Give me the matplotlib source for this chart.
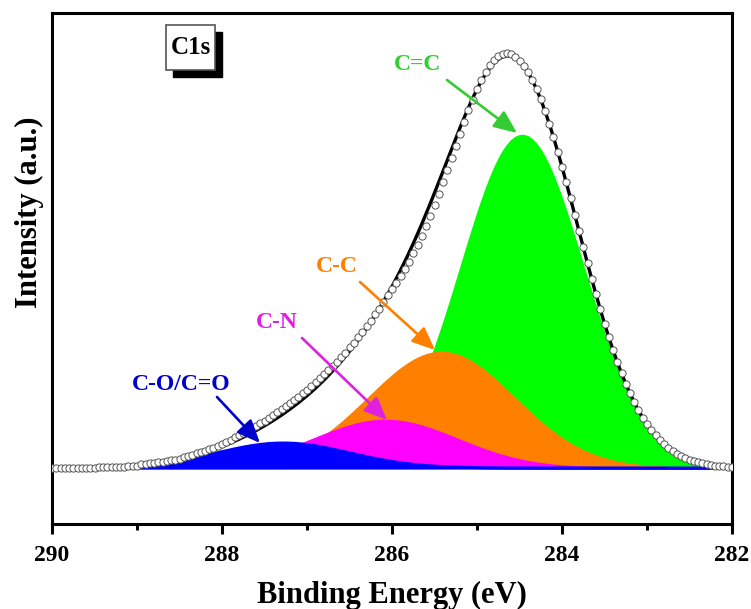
import numpy as np
import matplotlib
matplotlib.use("Agg")
import matplotlib.pyplot as plt
from matplotlib.patches import Rectangle

# ---- data ----
peak_names = ["C=C", "C-C", "C-N", "C-O/C=O"]
peak_centers = [284.47, 285.42, 286.08, 287.28]   # eV, fitted component positions
peak_heights = [333.0, 116.0, 48.0, 25.0]         # a.u.
peak_sigmas = [0.72, 0.86, 0.85, 0.78]            # eV (Gaussian widths)
fill_colors = ["#00FF00", "#FF8000", "#FF00FF", "#0000FF"]
label_colors = ["#33CC33", "#FF8000", "#E020E0", "#0000CC"]
xticks = [290, 288, 286, 284, 282]

# measured spectrum (open circles), 290.00 -> 282.00 eV in 0.05 eV steps
energy_start, energy_step = 290.0, -0.05
measured = [
    0, 0, 0, 0, 0, 0, 0, 0, 0, 0, 0,
    1, 1, 1, 1, 1, 1, 1, 2, 2, 2,
    4, 4, 5, 5, 6, 6, 7, 8, 8, 9,
    11, 12, 13, 15, 16, 17, 19, 20, 22,
    24, 26, 28, 31, 33, 35, 37, 40, 42, 45, 47,
    50, 53, 56, 59, 62, 65, 68, 71, 75, 78,
    82, 86, 90, 94, 98, 102, 106, 111, 115, 121,
    125, 131, 136, 142, 147, 154, 159, 166, 173, 179,
    185, 192, 199, 206, 215, 223, 232, 242, 252, 263,
    274, 286, 298, 310, 322, 334, 346, 358, 368, 379,
    388, 396, 403, 408, 412, 414, 415, 414, 411, 407,
    402, 396, 388, 379, 369, 357, 344, 331, 316, 301,
    286, 270, 253, 237, 221, 205, 189, 174, 159, 144,
    131, 118, 106, 95, 84, 75, 66, 58, 50, 44,
    38, 33, 28, 24, 20, 17, 14, 12, 10, 8,
    7, 6, 5, 4, 3, 2, 2, 2, 1, 1,
]

energy = energy_start + energy_step * np.arange(len(measured))

def comp(i, x):
    return peak_heights[i] * np.exp(-(x - peak_centers[i]) ** 2 / (2 * peak_sigmas[i] ** 2))

comps = [comp(i, energy) for i in range(4)]
envelope = np.sum(comps, axis=0)

plt.rcParams["font.family"] = ["Liberation Serif", "DejaVu Serif"]
plt.rcParams["font.weight"] = "bold"

fig = plt.figure(figsize=(7.51, 6.09), dpi=100)
ax = fig.add_axes([52 / 751, 1 - 524 / 609, 680 / 751, 511 / 609])

for i in range(4):
    ax.fill_between(energy, 0, comps[i], facecolor=fill_colors[i],
                    edgecolor=fill_colors[i], lw=1.2, zorder=2 + i)
ax.plot(energy, comps[3], color=fill_colors[3], lw=2.2, zorder=6)

ax.plot(energy, envelope, color="black", lw=2.4, zorder=7)
ax.plot(energy, measured, ls="none", marker="o", ms=5.2, mfc="white",
        mec="#555555", mew=0.7, zorder=8)

ax.set_xlim(290, 282)
ax.set_ylim(-56, 455)
ax.set_xticks(xticks)
ax.set_xticks([289, 287, 285, 283], minor=True)
ax.set_yticks([])
ax.tick_params(axis="x", which="major", direction="out", length=7.2, width=2.2,
               labelsize=17, pad=8)
ax.tick_params(axis="x", which="minor", direction="out", length=4.3, width=2.2)
for lab in ax.get_xticklabels():
    lab.set_fontweight("bold")
for s in ax.spines.values():
    s.set_linewidth(2.2)

ax.set_xlabel("Binding Energy (eV)", fontsize=22, fontweight="bold", labelpad=11)
ax.set_ylabel("Intensity (a.u.)", fontsize=22, fontweight="bold", labelpad=6, y=0.61)

def px2data(px, py):
    return 290 - (px - 52) / 85.0, 468 - py

label_px = [(418, 64), (337, 267), (277, 323), (181, 385)]
arrow_px = [((447, 80), (517, 133)), ((360, 282), (435, 350)),
            ((302, 338), (387, 420)), ((217, 397), (260, 443))]
for i in range(4):
    ax.text(*px2data(*label_px[i]), peak_names[i], color=label_colors[i],
            fontsize=17, fontweight="bold", ha="center", va="center", zorder=10)
    (sx, sy), (ex, ey) = arrow_px[i]
    ax.annotate("", xy=px2data(ex, ey), xytext=px2data(sx, sy),
                arrowprops=dict(arrowstyle="-|>,head_length=0.7,head_width=0.3",
                                color=label_colors[i], lw=1.9, mutation_scale=20,
                                shrinkA=0, shrinkB=0), zorder=10)

# C1s box with shadow
fig.add_artist(Rectangle((173 / 751, 1 - 77 / 609), 49 / 751, 45 / 609,
                         transform=fig.transFigure, facecolor="black", edgecolor="black", zorder=20))
fig.add_artist(Rectangle((166 / 751, 1 - 70 / 609), 49 / 751, 45 / 609,
                         transform=fig.transFigure, facecolor="white", edgecolor="#555555",
                         lw=1.2, zorder=21))
fig.text(190.5 / 751, 1 - 48 / 609, "C1s", fontsize=18, fontweight="bold",
         ha="center", va="center", zorder=22)

fig.savefig("out.png", dpi=100)
